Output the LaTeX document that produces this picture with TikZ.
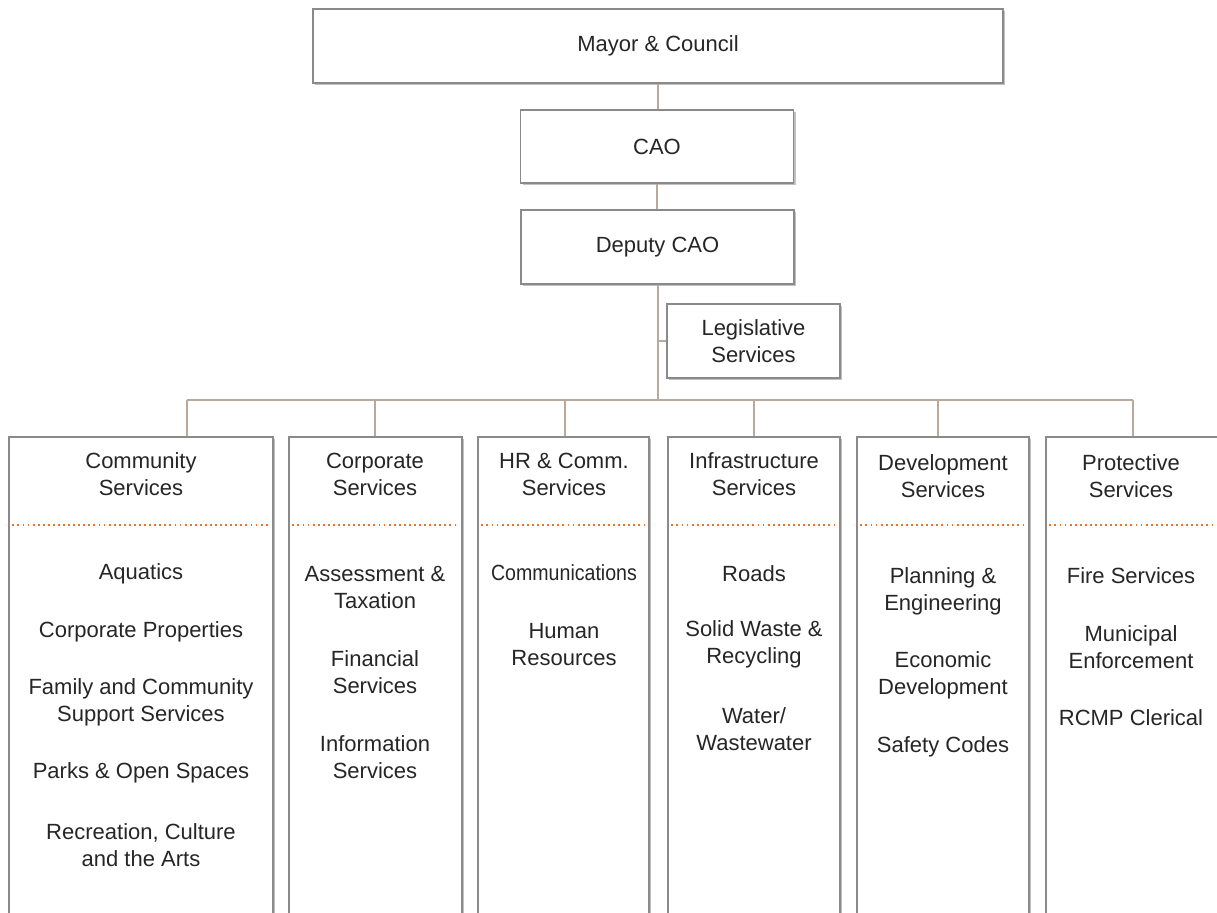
\documentclass[tikz,border=0pt]{standalone}
\usepackage{fontspec}
\usepackage{graphicx}
\setmainfont{Liberation Sans}
\usetikzlibrary{shadows}
\definecolor{boxline}{HTML}{8A8A8A}
\definecolor{conn}{HTML}{BBA89C}
\definecolor{dotorange}{HTML}{E2772A}
\definecolor{txt}{HTML}{262626}
\tikzset{
  box/.style={draw=boxline, line width=0.9pt, fill=white, inner sep=0pt,
    drop shadow={shadow xshift=1.8pt, shadow yshift=-1.6pt, opacity=0.4, fill=black!60}},
  lbl/.style={text=txt, font=\fontsize{16.5}{20.3}\selectfont, align=center, inner sep=0pt},
  link/.style={draw=conn, line width=0.8pt},
  sep/.style={draw=dotorange, line width=1.6pt, dash pattern=on 1.4pt off 2.4pt, shorten <=3pt, shorten >=3pt}
}
\begin{document}
\begin{tikzpicture}[x=0.75pt, y=-0.75pt]
\useasboundingbox (0,0) rectangle (1217,913);
\clip (0,0) rectangle (1217,913);
\fill[white] (0,0) rectangle (1217,913);

% top boxes
\node[box, minimum width=517.5pt, minimum height=55.5pt] (mayor) at (658,46) {};
\node[lbl] at (mayor.center) {Mayor \& Council};
\node[box, minimum width=204.75pt, minimum height=54.75pt] (cao) at (657,146.5) {};
\node[lbl] at (cao.center) {CAO};
\node[box, minimum width=204.75pt, minimum height=55.5pt] (dep) at (657.5,247) {};
\node[lbl] at (dep.center) {Deputy CAO};
\node[box, minimum width=129.75pt, minimum height=55.5pt] (leg) at (753.5,341) {};
\node[lbl] at (leg.center) {Legislative\\Services};

% columns
\node[box, minimum width=198pt, minimum height=377.25pt] (c1) at (141,688.5) {};
\node[box, minimum width=129.75pt, minimum height=377.25pt] (c2) at (375.5,688.5) {};
\node[box, minimum width=128.25pt, minimum height=377.25pt] (c3) at (563.5,688.5) {};
\node[box, minimum width=129pt, minimum height=377.25pt] (c4) at (754,688.5) {};
\node[box, minimum width=129pt, minimum height=377.25pt] (c5) at (943,688.5) {};
\node[box, minimum width=130.5pt, minimum height=377.25pt] (c6) at (1133,688.5) {};

% connectors
\coordinate (bus) at (658,400);
\coordinate (bl) at (187,400);
\coordinate (br) at (1133,400);
\draw[link] (mayor.south) -- (mayor.south |- cao.north);
\draw[link] (cao.south) -- (cao.south |- dep.north);
\draw[link] (mayor.south |- dep.south) -- (bus);
\draw[link] (leg.west) -- (leg.west -| bus);
\draw[link] (bl) -- (br);
\foreach \xx/\cc in {187/c1, 375/c2, 565/c3, 754/c4, 938/c5, 1133/c6}{
  \coordinate (d\cc) at (\xx,400);
  \draw[link] (d\cc) -- (d\cc |- \cc.north);
}

% dotted separators
\coordinate (dl) at (0,525);
\foreach \cc in {c1,c2,c3,c4,c5,c6}{
  \draw[sep] (\cc.west |- dl) -- (\cc.east |- dl);
}

% headers
\node[lbl] at (141,474) {Community\\Services};
\node[lbl] at (375,474) {Corporate\\Services};
\node[lbl] at (564,474) {HR \& Comm.\\Services};
\node[lbl] at (754,474) {Infrastructure\\Services};
\node[lbl] at (943,476) {Development\\Services};
\node[lbl] at (1131,476) {Protective\\Services};

% column 1 items
\node[lbl] at (141,574) {Aquatics};
\node[lbl] at (141,632) {Corporate Properties};
\node[lbl] at (141,702.5) {Family and Community\\Support Services};
\node[lbl] at (141,773) {Parks \& Open Spaces};
\node[lbl] at (141,845) {Recreation, Culture\\and the Arts};

% column 2 items
\node[lbl] at (375,587.5) {Assessment \&\\Taxation};
\node[lbl] at (375,672.5) {Financial\\Services};
\node[lbl] at (375,757.5) {Information\\Services};

% column 3 items
\node[lbl] at (564,573) {\scalebox{0.89}[1]{Communications}};
\node[lbl] at (564,644.5) {Human\\Resources};

% column 4 items
\node[lbl] at (754,574) {Roads};
\node[lbl] at (754,644.5) {Solid Waste \&\\Recycling};
\node[lbl] at (754,729.5) {Water/\\Wastewater};

% column 5 items
\node[lbl] at (943,591.5) {Planning \&\\Engineering};
\node[lbl] at (943,675.5) {Economic\\Development};
\node[lbl] at (943,747) {Safety Codes};

% column 6 items
\node[lbl] at (1131,576) {Fire Services};
\node[lbl] at (1131,647.5) {Municipal\\Enforcement};
\node[lbl] at (1131,718) {RCMP Clerical};
\end{tikzpicture}
\end{document}
